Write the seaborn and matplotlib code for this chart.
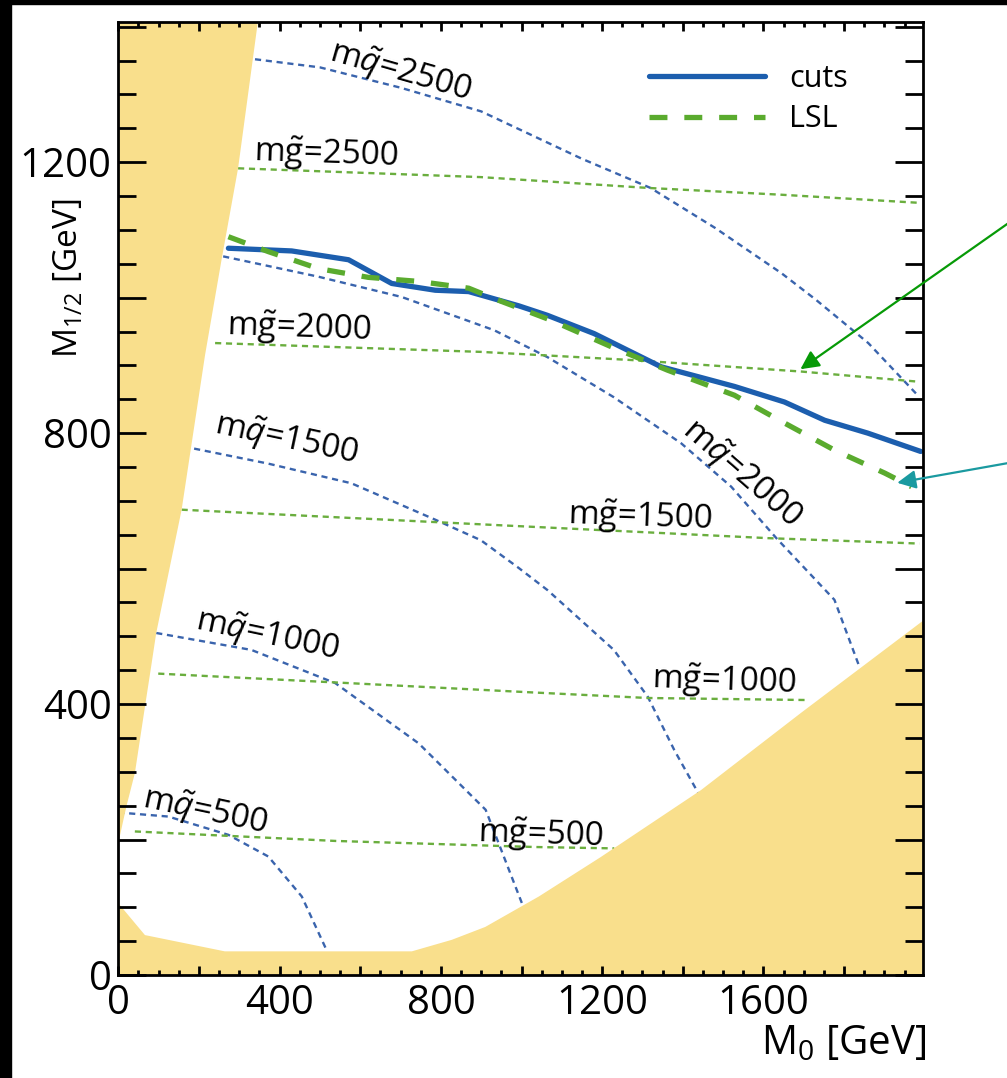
import pandas as pd
import numpy as np
import matplotlib.pyplot as plt
import seaborn as sns
from matplotlib.patches import Rectangle
from matplotlib.ticker import MultipleLocator, FuncFormatter

# ---- data (GeV) ----
# squark mass contours (blue, dotted)
mq2500_x = [339, 500, 700, 900, 1150, 1320, 1480, 1645, 1730, 1860, 1984]
mq2500_y = [1352, 1340, 1310, 1275, 1205, 1162, 1103, 1036, 997, 933, 855]
mq2000_x = [260, 496, 703, 932, 1065, 1229, 1396, 1520, 1632, 1776, 1838]
mq2000_y = [1061, 1031, 1001, 952, 912, 853, 785, 721, 645, 554, 455]
mq1500_x = [0, 173, 372, 578, 787, 899, 993, 1065, 1229, 1313, 1379, 1438]
mq1500_y = [785, 779, 755, 726, 672, 642, 601, 568, 480, 411, 332, 269]
mq1000_x = [94, 330, 538, 745, 911, 1001]
mq1000_y = [505, 480, 431, 342, 244, 106]
mq500_x = [0, 124, 273, 372, 455, 514]
mq500_y = [240, 234, 207, 175, 116, 40]

# gluino mass contours (green, dotted)
mg2500_x = [297, 899, 1314, 1644, 1987]
mg2500_y = [1191, 1178, 1162, 1152, 1140]
mg2000_x = [240, 899, 1271, 1693, 1984]
mg2000_y = [933, 920, 908, 891, 876]
mg1500_x = [157, 948, 1611, 1987]
mg1500_y = [687, 664, 645, 637]
mg1000_x = [99, 538, 1035, 1314, 1710]
mg1000_y = [445, 432, 417, 409, 406]
mg500_x = [41, 538, 1035, 1230]
mg500_y = [212, 198, 189, 187]

# reach curves
cuts_x = [273, 430, 571, 678, 786, 869, 993, 1064, 1180, 1346, 1528, 1652, 1752, 1859, 1990]
cuts_y = [1073, 1069, 1056, 1021, 1011, 1009, 988, 974, 947, 898, 869, 846, 819, 800, 773]
lsl_x = [273, 372, 496, 620, 745, 869, 948, 1072, 1221, 1362, 1528, 1652, 1776, 1901, 1967]
lsl_y = [1090, 1068, 1043, 1030, 1024, 1014, 995, 967, 928, 893, 856, 815, 775, 741, 721]

# excluded regions (yellow)
wedge_x = [0, 346, 297, 256, 215, 157, 94, 80, 66, 41, 20, 0]
wedge_y = [1407, 1407, 1191, 1056, 915, 687, 505, 450, 396, 298, 249, 195]
floor_x = [0, 0, 66, 165, 264, 728, 827, 910, 1043, 1196, 1445, 1693, 2000, 2000]
floor_y = [0, 106, 59, 47, 35, 35, 52, 71, 116, 174, 273, 387, 525, 0]

squark_labels = ['2500', '2000', '1500', '1000', '500']
gluino_labels = ['2500', '2000', '1500', '1000', '500']

sns.set_style('white')
plt.rcParams['font.family'] = ['Open Sans', 'DejaVu Sans']
plt.rcParams['mathtext.fontset'] = 'custom'
plt.rcParams['mathtext.rm'] = 'Open Sans'
plt.rcParams['mathtext.it'] = 'Open Sans:italic'
plt.rcParams['text.color'] = 'black'
plt.rcParams['axes.labelcolor'] = 'black'
plt.rcParams['xtick.color'] = 'black'
plt.rcParams['ytick.color'] = 'black'

blue_thin = '#3a64ad'
green_thin = '#6aae3e'
blue_thick = '#1c5eae'
green_thick = '#5aab2e'
yellow = '#f9df8c'

fig = plt.figure(figsize=(10.07, 10.78), dpi=100)
ax = fig.add_axes([0.1175, 0.0955, 0.7988, 0.8841])
ax.set_axisbelow(False)

# yellow excluded regions
ax.fill(wedge_x, wedge_y, color=yellow, lw=0, zorder=1.8)
ax.fill(floor_x, floor_y, color=yellow, lw=0, zorder=1.8)

thin_dash = (0, (2.6, 2.0))
for xs, ys in [(mq2500_x, mq2500_y), (mq2000_x, mq2000_y), (mq1500_x, mq1500_y),
               (mq1000_x, mq1000_y), (mq500_x, mq500_y)]:
    sns.lineplot(x=xs, y=ys, sort=False, estimator=None, color=blue_thin,
                 lw=1.7, linestyle=thin_dash, ax=ax, zorder=1.5)
for xs, ys in [(mg2500_x, mg2500_y), (mg2000_x, mg2000_y), (mg1500_x, mg1500_y),
               (mg1000_x, mg1000_y), (mg500_x, mg500_y)]:
    sns.lineplot(x=xs, y=ys, sort=False, estimator=None, color=green_thin,
                 lw=1.7, linestyle=thin_dash, ax=ax, zorder=1.5)

sns.lineplot(x=cuts_x, y=cuts_y, sort=False, estimator=None, color=blue_thick,
             lw=3.8, ax=ax, zorder=2.2, label='cuts')
sns.lineplot(x=lsl_x, y=lsl_y, sort=False, estimator=None, color=green_thick,
             lw=3.8, linestyle=(0, (3.4, 3.2)), ax=ax, zorder=2.2, label='LSL')

# contour labels
sq = r'm$\tilde{q}$='
gl = r'm$\tilde{\mathrm{g}}$='
lab_fs = 24
ax.text(700, 1333, sq + squark_labels[0], rotation=-16, ha='center', va='center', fontsize=lab_fs, zorder=3)
ax.text(1545, 741, sq + squark_labels[1], rotation=-41, ha='center', va='center', fontsize=lab_fs, zorder=3)
ax.text(417, 791, sq + squark_labels[2], rotation=-12, ha='center', va='center', fontsize=lab_fs, zorder=3)
ax.text(370, 502, sq + squark_labels[3], rotation=-12, ha='center', va='center', fontsize=lab_fs, zorder=3)
ax.text(214, 242, sq + squark_labels[4], rotation=-12, ha='center', va='center', fontsize=lab_fs, zorder=3)
ax.text(514, 1211, gl + gluino_labels[0], rotation=-2, ha='center', va='center', fontsize=lab_fs, zorder=3)
ax.text(449, 955, gl + gluino_labels[1], rotation=-2, ha='center', va='center', fontsize=lab_fs, zorder=3)
ax.text(1294, 676, gl + gluino_labels[2], rotation=-2, ha='center', va='center', fontsize=lab_fs, zorder=3)
ax.text(1503, 433, gl + gluino_labels[3], rotation=-2, ha='center', va='center', fontsize=lab_fs, zorder=3)
ax.text(1048, 207, gl + gluino_labels[4], rotation=-2, ha='center', va='center', fontsize=lab_fs, zorder=3)

# pointer arrows from outside the frame
ax.annotate('', xy=(1686, 892), xycoords='data', xytext=(1.158, 0.8195), textcoords='axes fraction',
            arrowprops=dict(arrowstyle='-|>', color='#079a07', lw=1.6, mutation_scale=28),
            annotation_clip=False, zorder=6)
ax.annotate('', xy=(1925, 726), xycoords='data', xytext=(1.158, 0.545), textcoords='axes fraction',
            arrowprops=dict(arrowstyle='-|>', color='#1a9aa0', lw=1.6, mutation_scale=28),
            annotation_clip=False, zorder=6)

ax.set_xlim(0, 1995)
ax.set_ylim(0, 1407)

lab400 = FuncFormatter(lambda v, p: '%d' % v if int(round(v)) % 400 == 0 else '')
ax.xaxis.set_major_locator(MultipleLocator(200))
ax.xaxis.set_minor_locator(MultipleLocator(50))
ax.yaxis.set_major_locator(MultipleLocator(200))
ax.yaxis.set_minor_locator(MultipleLocator(50))
ax.xaxis.set_major_formatter(lab400)
ax.yaxis.set_major_formatter(lab400)

ax.tick_params(which='both', direction='in', bottom=True, left=True, top=True, right=True,
               width=2, colors='black', labelsize=29)
ax.tick_params(axis='x', which='major', length=6.5, pad=6)
ax.tick_params(axis='x', which='minor', length=3.6)
ax.tick_params(axis='y', which='major', length=20, pad=5)
ax.tick_params(axis='y', which='minor', length=13)
for sp in ax.spines.values():
    sp.set_linewidth(2)
    sp.set_color('black')
    sp.set_zorder(4)

ax.set_xlabel(r'M$_{0}$ [GeV]', fontsize=29, ha='right', va='center')
ax.xaxis.set_label_coords(1.005, -0.073)
ax.set_ylabel(r'M$_{1/2}$ [GeV]', fontsize=24, va='center')
ax.yaxis.set_label_coords(-0.062, 0.731)

ax.legend(frameon=False, fontsize=22, loc='upper left', bbox_to_anchor=(0.625, 0.985),
          handlelength=3.8, labelspacing=0.35, handletextpad=0.8)

# black strips at left and top edge of the picture
fig.add_artist(Rectangle((0, 0), 11 / 1007, 1, transform=fig.transFigure, color='black', zorder=10))
fig.add_artist(Rectangle((0, 1 - 4 / 1078), 1, 4 / 1078, transform=fig.transFigure, color='black', zorder=10))

fig.savefig('out.png', dpi=100)
